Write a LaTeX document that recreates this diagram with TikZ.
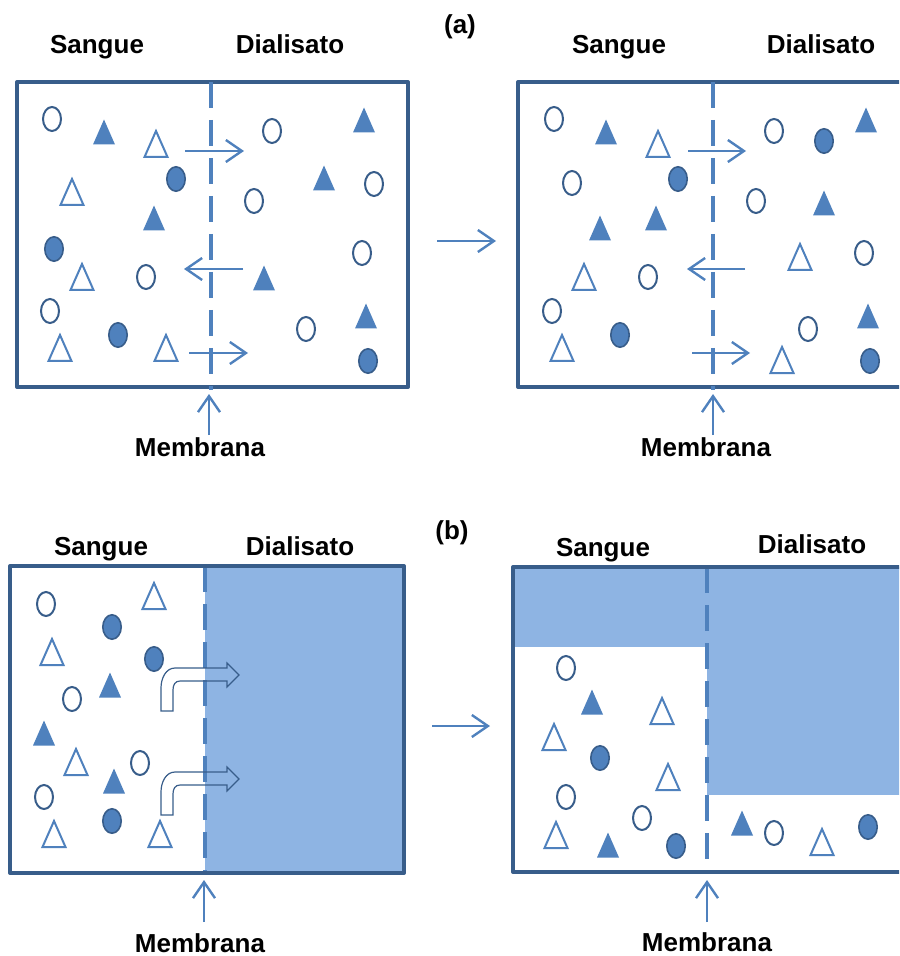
\documentclass[tikz,border=0pt]{standalone}
\usepackage{fontspec}
\setmainfont{Liberation Sans}
\usetikzlibrary{arrows.meta}

\definecolor{solute}{HTML}{4F81BD}
\definecolor{edge}{HTML}{385D8A}
\definecolor{fluid}{HTML}{8EB4E3}

\tikzset{
  frame/.style={draw=edge, line width=2pt, line join=round},
  membrane/.style={draw=solute, line width=1.8pt, dash pattern=on 13pt off 6pt},
  flow/.style={draw=solute, line width=1.2pt,
    -{Straight Barb[length=8pt,width=11pt,line width=1.2pt]}},
  caption/.style={font=\bfseries\fontsize{13}{15}\selectfont, inner sep=0pt, anchor=base},
  bentarrow/.style={draw=edge, line width=0.6pt, line join=miter},
}

% solute particles: open / filled circles and triangles
\newcommand\blobO[2]{\draw[edge, line width=1pt, fill=white] (#1,#2) ellipse [x radius=4.5pt, y radius=6pt];}
\newcommand\blobF[2]{\draw[edge, line width=0.8pt, fill=solute] (#1,#2) ellipse [x radius=4.6pt, y radius=6.1pt];}
\newcommand\triO[2]{\draw[solute, line width=1pt, fill=white, line join=miter] (#1,#2) ++(0,-13) -- ++(11.5,26) -- ++(-23,0) -- cycle;}
\newcommand\triF[2]{\fill[solute] (#1,#2) ++(0,-12.5) -- ++(11,25) -- ++(-22,0) -- cycle;}
% bent (up-then-right) outlined arrow, stem bottom-left corner at (#1,#2)
\newcommand\bentflow[2]{\draw[bentarrow] (#1,#2) -- ++(0,-23)
  .. controls ++(0,-10) and ++(-9,0) .. ++(14,-20)
  -- ++(52,0) -- ++(0,-5) -- ++(12,12) -- ++(-12,12) -- ++(0,-6)
  -- ++(-47,0) .. controls ++(-5,0) and ++(0,-5) .. ++(-7,9)
  -- ++(0,21) -- cycle;}

\begin{document}
\begin{tikzpicture}[x=0.5pt, y=-0.5pt]
\useasboundingbox (0,0) rectangle (899,956);
\clip (0,0) rectangle (899,956);

% ---------------- (a) diffusion ----------------
\node[caption] (capA) at (460,34) {(a)};

% left state
\node[caption] (sA1) at (97,54) {Sangue};
\node[caption] (dA1) at (290,54) {Dialisato};
\draw[frame] (17,82) rectangle (408,387);
\draw[membrane] (211,82) -- (211,390);
\blobO{52}{119} \triF{104}{132} \triO{156}{144} \blobF{176}{179}
\triO{72}{192} \triF{154}{218} \blobF{54}{249} \triO{82}{277}
\blobO{146}{277} \blobO{50}{311} \blobF{118}{335} \triO{60}{348} \triO{166}{348}
\blobO{272}{131} \triF{364}{120} \triF{324}{178} \blobO{374}{184}
\blobO{254}{201} \blobO{362}{253} \triF{264}{278} \blobO{306}{329}
\triF{366}{316} \blobF{368}{361}
\coordinate (fa1s) at (185,151); \coordinate (fa1e) at (244,151);
\coordinate (fa2s) at (243,269); \coordinate (fa2e) at (184,269);
\coordinate (fa3s) at (189,353); \coordinate (fa3e) at (248,353);
\draw[flow] (fa1s) -- (fa1e);
\draw[flow] (fa2s) -- (fa2e);
\draw[flow] (fa3s) -- (fa3e);
\node[caption] (mA1) at (200,456) {Membrana};
\coordinate (mA1t) at (209,394); \coordinate (mA1b) at (209,435);
\draw[flow] (mA1b) -- (mA1t);

% step arrow
\coordinate (stepAs) at (437,241); \coordinate (stepAe) at (496,241);
\draw[flow] (stepAs) -- (stepAe);

% right state
\node[caption] (sA2) at (619,54) {Sangue};
\node[caption] (dA2) at (821,54) {Dialisato};
\draw[frame] (518,82) rectangle (915,387);
\draw[membrane] (713,82) -- (713,390);
\blobO{554}{119} \triF{606}{132} \triO{658}{144} \blobO{572}{183}
\blobF{678}{179} \triF{600}{228} \triF{656}{218} \triO{584}{277}
\blobO{648}{277} \blobO{552}{311} \blobF{620}{335} \triO{562}{348}
\blobO{774}{131} \blobF{824}{141} \triF{866}{120} \blobO{756}{201}
\triF{824}{203} \triO{800}{257} \blobO{864}{253} \blobO{808}{329}
\triF{868}{316} \triO{782}{360} \blobF{870}{361}
\coordinate (fb1s) at (688,151); \coordinate (fb1e) at (746,151);
\coordinate (fb2s) at (745,269); \coordinate (fb2e) at (687,269);
\coordinate (fb3s) at (692,353); \coordinate (fb3e) at (750,353);
\draw[flow] (fb1s) -- (fb1e);
\draw[flow] (fb2s) -- (fb2e);
\draw[flow] (fb3s) -- (fb3e);
\node[caption] (mA2) at (706,456) {Membrana};
\coordinate (mA2t) at (713,394); \coordinate (mA2b) at (713,435);
\draw[flow] (mA2b) -- (mA2t);

% ---------------- (b) ultrafiltration ----------------
\node[caption] (capB) at (452,539) {(b)};

% left state
\node[caption] (sB1) at (101,555) {Sangue};
\node[caption] (dB1) at (300,555) {Dialisato};
\fill[fluid] (205,566) rectangle (404,873);
\draw[membrane] (205,566) -- (205,873);
\draw[frame] (10,566) rectangle (404,873);
\blobO{46}{604} \triO{154}{596} \blobF{112}{627} \triO{52}{652}
\blobF{154}{659} \triF{110}{685} \blobO{72}{699} \triF{44}{733}
\triO{76}{762} \blobO{140}{763} \triF{114}{781} \blobO{44}{797}
\blobF{112}{821} \triO{54}{834} \triO{160}{834}
\bentflow{161}{711}
\bentflow{161}{815}
\node[caption] (mB1) at (200,952) {Membrana};
\coordinate (mB1t) at (204,880); \coordinate (mB1b) at (204,922);
\draw[flow] (mB1b) -- (mB1t);

% step arrow
\coordinate (stepBs) at (432,726); \coordinate (stepBe) at (490,726);
\draw[flow] (stepBs) -- (stepBe);

% right state
\node[caption] (sB2) at (603,556) {Sangue};
\node[caption] (dB2) at (812,553) {Dialisato};
\fill[fluid] (513,567) rectangle (707,647);
\fill[fluid] (707,567) rectangle (915,795);
\draw[membrane] (707,567) -- (707,872);
\draw[frame] (513,567) rectangle (915,872);
\blobO{566}{668} \triF{592}{702} \triO{662}{711} \triO{554}{737}
\blobF{600}{758} \triO{668}{777} \blobO{566}{797} \triO{556}{835}
\triF{608}{845} \blobO{642}{818} \blobF{676}{846}
\triF{742}{823} \blobO{774}{833} \triO{822}{842} \blobF{868}{827}
\node[caption] (mB2) at (707,951) {Membrana};
\coordinate (mB2t) at (707,880); \coordinate (mB2b) at (707,922);
\draw[flow] (mB2b) -- (mB2t);
\end{tikzpicture}
\end{document}
